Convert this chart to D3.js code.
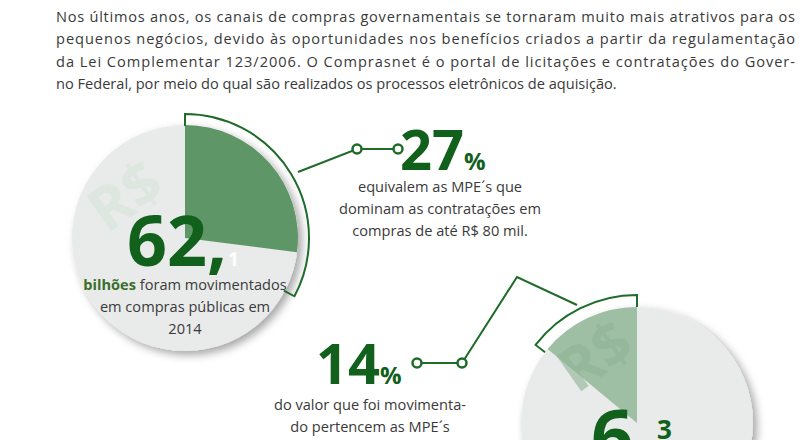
<!DOCTYPE html>
<html><head><meta charset="utf-8">
<script src="https://cdn.jsdelivr.net/npm/d3@7"></script>
<style>body{margin:0;background:#fff}svg{display:block;font-family:"Open Sans",sans-serif}</style>
</head><body><svg width="806" height="440"></svg>
<script>
// dados do infográfico
const intro = [
  'Nos últimos anos, os canais de compras governamentais se tornaram muito mais atrativos para os',
  'pequenos negócios, devido às oportunidades nos benefícios criados a partir da regulamentação',
  'da Lei Complementar 123/2006. O Comprasnet é o portal de licitações e contratações do Gover-',
  'no Federal, por meio do qual são realizados os processos eletrônicos de aquisição.'
];
const amounts  = ['62', '6'];
const decimals = ['1', '3'];
const shares   = [27, 14];
const captions = [
  ['equivalem as MPE´s que', 'dominam as contratações em', 'compras de até R$ 80 mil.'],
  ['do valor que foi movimenta-', 'do pertencem as MPE´s']
];
const amountCaption = ['foram movimentados', 'em compras públicas em', '2014'];

const svg = d3.select('svg');
const GREEN = '#1e6b2a', DARK = '#11601c', TXT = '#3a3a3a', FS = 14.6;

const defs = svg.append('defs');
const f = defs.append('filter').attr('id', 'sh').attr('x', '-20%').attr('y', '-20%').attr('width', '150%').attr('height', '150%');
f.append('feDropShadow').attr('dx', 4).attr('dy', 4).attr('stdDeviation', 4).attr('flood-color', '#000').attr('flood-opacity', 0.35);

svg.append('g').selectAll('text').data(intro).join('text')
  .attr('x', 56).attr('y', (d, i) => 22 + i * 22.3)
  .attr('font-size', FS).attr('fill', TXT)
  .attr('textLength', (d, i) => i === 3 ? null : 739).attr('lengthAdjust', 'spacing')
  .text(d => d);

const pct = d3.scaleLinear().domain([0, 100]).range([0, 2 * Math.PI]);

function pie(cx, cy, r, share, dir, fill) {
  const g = svg.append('g').attr('transform', `translate(${cx},${cy})`);
  g.append('circle').attr('r', r).attr('fill', '#e9ebea').attr('filter', 'url(#sh)');
  g.append('path').attr('fill', fill)
    .attr('d', d3.arc()({innerRadius: 0, outerRadius: r, startAngle: 0, endAngle: dir * pct(share)}));
  return g;
}

// círculo 1
const g1 = pie(185, 238, 113, shares[0], 1, '#5e9667');
g1.append('text').attr('x', -48).attr('y', -25).attr('transform', 'rotate(-35,-48,-25)')
  .attr('font-size', 60).attr('font-weight', 'bold').attr('fill', '#dde6df').attr('text-anchor', 'middle').text('R$');
const a1 = 2.06;
g1.append('path').attr('fill', 'none').attr('stroke', GREEN).attr('stroke-width', 2)
  .attr('d', `M0,-112 L0,-124 A124,124 0 0 1 ${124 * Math.sin(a1)},${-124 * Math.cos(a1)} L${112 * Math.sin(a1)},${-112 * Math.cos(a1)}`);
g1.append('text').attr('x', -58).attr('y', 28).attr('font-size', 70).attr('font-weight', 'bold').attr('fill', DARK).text(amounts[0] + ',');
g1.append('text').attr('x', 43).attr('y', 28).attr('font-size', 19).attr('font-weight', 'bold').attr('fill', '#fff').text(decimals[0]);
const c1 = g1.append('text').attr('text-anchor', 'middle').attr('font-size', FS).attr('fill', TXT);
c1.append('tspan').attr('x', 0).attr('y', 52).attr('font-weight', 'bold').attr('fill', '#3b6e2a').text('bilhões ');
c1.append('tspan').text(amountCaption[0]);
amountCaption.slice(1).forEach((t, i) =>
  g1.append('text').attr('x', 0).attr('y', 74 + i * 22).attr('text-anchor', 'middle').attr('font-size', FS).attr('fill', TXT).text(t));

// círculo 2
const g2 = pie(637, 423, 116, shares[1], -1, '#9fbfa5');
g2.append('text').attr('x', -30).attr('y', -50).attr('transform', 'rotate(-35,-30,-50)')
  .attr('font-size', 60).attr('font-weight', 'bold').attr('fill', '#8fb496').attr('opacity', 0.6).attr('text-anchor', 'middle').text('R$');
const a2 = pct(shares[1]) * 1.04;
g2.append('path').attr('fill', 'none').attr('stroke', GREEN).attr('stroke-width', 2)
  .attr('d', `M0,-116 L0,-128 A128,128 0 0 0 ${-128 * Math.sin(a2)},${-128 * Math.cos(a2)} L${-116 * Math.sin(a2)},${-116 * Math.cos(a2)}`);
g2.append('text').attr('x', -46).attr('y', 40).attr('font-size', 74).attr('font-weight', 'bold').attr('fill', DARK).text(amounts[1] + ',');
g2.append('text').attr('x', 20).attr('y', 16).attr('font-size', 26).attr('font-weight', 'bold').attr('fill', DARK).text(decimals[1]);

// conectores
const line = d3.line();
svg.append('path').attr('fill', 'none').attr('stroke', GREEN).attr('stroke-width', 2)
  .attr('d', line([[298, 172], [357, 149], [398, 149]]));
svg.append('path').attr('fill', 'none').attr('stroke', GREEN).attr('stroke-width', 2)
  .attr('d', line([[577, 305], [517, 277], [462, 363], [417, 363]]));
svg.selectAll('circle.dot').data([[357, 149], [398, 149], [462, 363], [417, 363]]).join('circle')
  .attr('cx', d => d[0]).attr('cy', d => d[1]).attr('r', 4.5)
  .attr('fill', '#fff').attr('stroke', GREEN).attr('stroke-width', 2.5);

// percentuais
function share(x, y, v) {
  const t = svg.append('text').attr('x', x).attr('y', y).attr('font-weight', 'bold').attr('fill', DARK);
  t.append('tspan').attr('font-size', 56).text(v);
  t.append('tspan').attr('font-size', 24).text('%');
}
share(400, 170, shares[0]);
share(316, 384, shares[1]);
svg.append('g').selectAll('text').data(captions[0]).join('text')
  .attr('x', 440).attr('y', (d, i) => 192 + i * 22).attr('text-anchor', 'middle')
  .attr('font-size', FS).attr('fill', TXT).text(d => d);
svg.append('g').selectAll('text').data(captions[1]).join('text')
  .attr('x', 370).attr('y', (d, i) => 410 + i * 22).attr('text-anchor', 'middle')
  .attr('font-size', FS).attr('fill', TXT).text(d => d);
</script></body></html>
